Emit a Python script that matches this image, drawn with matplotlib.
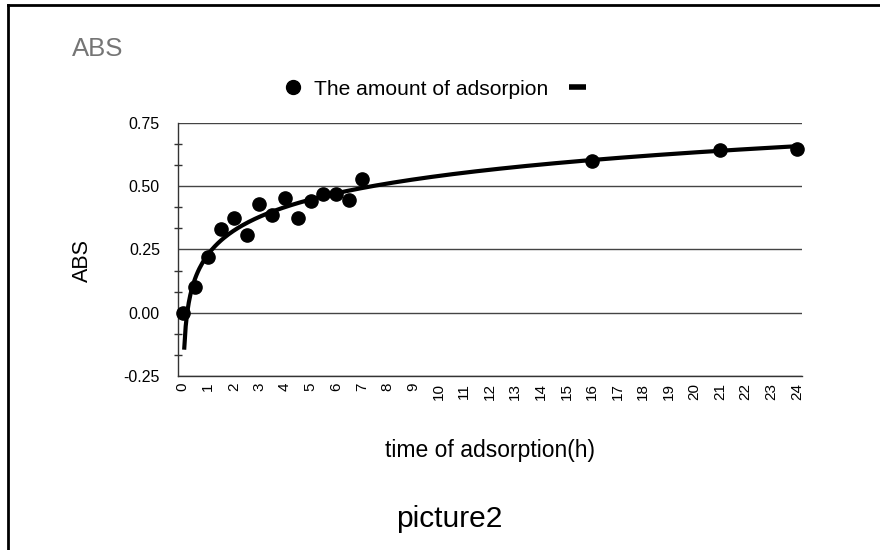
import numpy as np
import matplotlib
matplotlib.use("Agg")
import matplotlib.pyplot as plt
from matplotlib.lines import Line2D
from matplotlib.ticker import MultipleLocator

plt.rcParams['font.family'] = ['Liberation Sans', 'DejaVu Sans']

# measured points (hours, ABS)
hours = [0, 0.5, 1, 1.5, 2, 2.5, 3, 3.5, 4, 4.5, 5, 5.5, 6, 6.5, 7, 16, 21, 24]
abs_values = [0.00, 0.10, 0.22, 0.33, 0.374, 0.307, 0.43, 0.388, 0.455, 0.375,
              0.44, 0.471, 0.47, 0.445, 0.529, 0.60, 0.642, 0.646]
x_ticks = list(range(0, 25))
y_ticks = [-0.25, 0.00, 0.25, 0.50, 0.75]
y_tick_labels = ["-0.25", "0.00", "0.25", "0.50", "0.75"]

fig = plt.figure(figsize=(8.8, 5.5), dpi=100)
ax = fig.add_axes([0.2023, 0.3164, 0.709, 0.46])

# logarithmic trendline fitted to the points (t > 0)
t = np.array(hours, dtype=float)
y = np.array(abs_values)
mask = t > 0
b, a = np.polyfit(np.log(t[mask]), y[mask], 1)
t_fit = np.linspace(0.06, 24, 400)
ax.plot(t_fit, a + b * np.log(t_fit), color='black', lw=3, zorder=3,
        solid_capstyle='butt')

ax.plot(hours, abs_values, 'o', color='black', ms=9.5, zorder=4, clip_on=False)

ax.set_xlim(-0.18, 24.2)
ax.set_ylim(-0.25, 0.75)
ax.set_xticks(x_ticks)
ax.set_xticklabels([str(v) for v in x_ticks], rotation=90, fontsize=11)
ax.set_yticks(y_ticks)
ax.set_yticklabels(y_tick_labels, fontsize=11.5)
ax.yaxis.set_minor_locator(MultipleLocator(0.25 / 3))
ax.tick_params(axis='both', which='major', length=0)
ax.tick_params(axis='y', which='major', pad=13)
ax.tick_params(axis='x', which='major', pad=5)
ax.tick_params(axis='y', which='minor', length=6, direction='inout', width=1, color='#333333')
ax.tick_params(axis='x', which='minor', length=0)

ax.grid(axis='y', which='major', color='#444444', lw=1)
ax.set_axisbelow(True)
for side in ['top', 'right']:
    ax.spines[side].set_visible(False)
for side in ['left', 'bottom']:
    ax.spines[side].set_color('#333333')
    ax.spines[side].set_linewidth(1)

ax.set_ylabel("ABS", fontsize=15.5)
ax.yaxis.set_label_coords(-0.137, 0.458)
ax.set_xlabel("time of adsorption(h)", fontsize=16.5)
ax.xaxis.set_label_coords(0.5, -0.249)

fig.text(72 / 880, 0.91, "ABS", fontsize=18.5, color='#757575', ha='left', va='center')
fig.text(0.511, 0.057, "picture2", fontsize=21.5, color='black', ha='center', va='center')

handles = [Line2D([], [], marker='o', color='black', ls='none', ms=10),
           Line2D([], [], color='black', lw=4, solid_capstyle='butt')]
fig.legend(handles, ["The amount of adsorpion", ""], loc='center',
           bbox_to_anchor=(0.502, 0.838), ncol=2, frameon=False, fontsize=15.1,
           handlelength=0.8, handletextpad=0.6, columnspacing=1.0)

# outer frame (left and top edges visible)
fig.add_artist(Line2D([8 / 880, 8 / 880], [0, 1 - 5 / 550], color='black', lw=2))
fig.add_artist(Line2D([8 / 880, 1], [1 - 5 / 550, 1 - 5 / 550], color='black', lw=2))

fig.savefig("out.png", dpi=100)
